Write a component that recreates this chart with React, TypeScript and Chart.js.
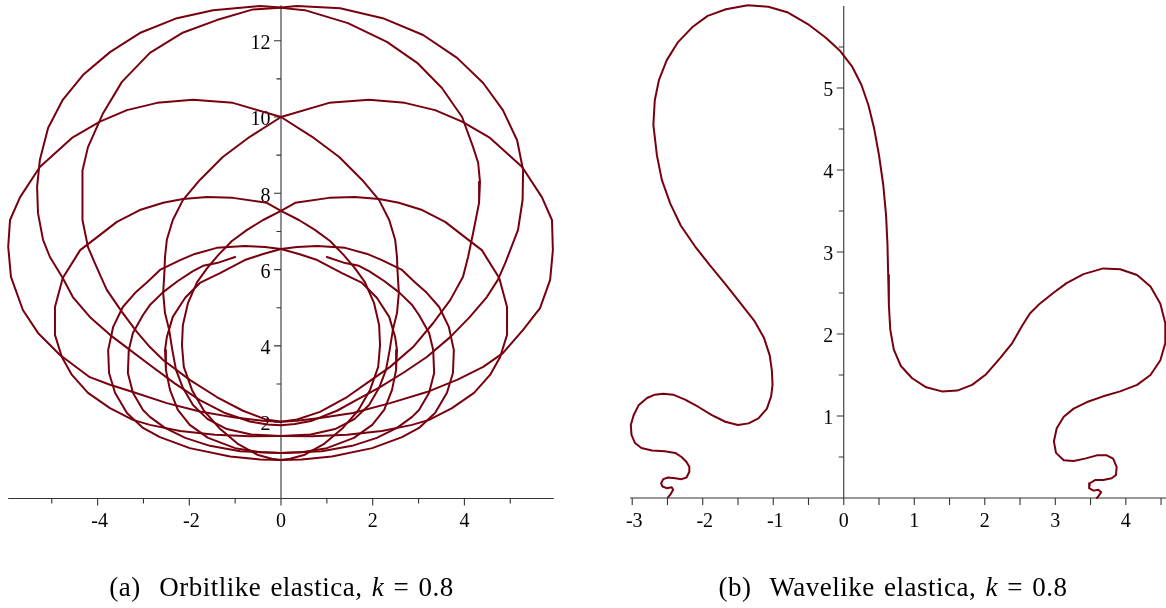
import React, { useEffect, useRef } from "react";
import { Chart, registerables } from "chart.js";

Chart.register(...registerables);

type Pt = [number, number];

const CURVE_COLOR = "#78000e";
const AXIS_COLOR = "#333333";

// ---------- (a) Orbitlike elastica: strands ----------
// left half strands (top crossing of the y-axis -> bottom crossing)
const orbitLA: Pt[] = [[0,12.87],[-0.46,12.91],[-1.48,12.8],[-2.27,12.59],[-3.08,12.2],[-3.73,11.7],[-4.32,11.1],[-4.76,10.45],[-5.08,9.71],[-5.26,8.87],[-5.32,8.17],[-5.3,7.48],[-5.19,6.78],[-5.04,6.33],[-4.76,5.78],[-4.54,5.28],[-4.17,4.76],[-3.73,4.29],[-3.29,3.89],[-2.86,3.5],[-2.31,3.01],[-1.77,2.58],[-1.22,2.24],[-0.68,2.02],[-0.3,1.94],[0,1.92]];
const orbitLA2: Pt[] = [[0,12.86],[-0.61,12.82],[-1.4,12.54],[-2.16,12.2],[-2.86,11.68],[-3.47,10.92],[-3.88,10.1],[-4.21,9.21],[-4.33,8.6],[-4.34,8.17],[-4.32,7.3],[-4.21,6.59],[-4.06,6.17],[-3.8,5.47],[-3.47,4.89],[-3.14,4.36],[-2.86,3.97],[-2.57,3.63],[-1.99,3.11],[-1.4,2.66],[-0.83,2.3],[-0.35,2.08],[0,2.01]];
const orbitLB: Pt[] = [[0,10],[-1.05,10.37],[-1.92,10.45],[-2.7,10.37],[-3.36,10.18],[-3.95,9.88],[-4.56,9.45],[-5.26,8.69],[-5.69,7.9],[-5.91,7.3],[-5.95,6.6],[-5.89,5.81],[-5.63,4.94],[-5.3,4.34],[-4.82,3.76],[-4.17,3.18],[-3.73,2.98],[-3.23,2.79],[-2.49,2.5],[-1.77,2.28],[-1.0,2.12],[-0.4,2.04],[0,2.01]];
const orbitLB2: Pt[] = [[0,10],[-0.68,9.48],[-1.27,8.95],[-1.77,8.35],[-2.14,7.82],[-2.36,7.3],[-2.49,6.78],[-2.53,6.33],[-2.54,5.99],[-2.57,5.39],[-2.53,4.86],[-2.44,4.42],[-2.37,3.89],[-2.29,3.37],[-2.14,2.9],[-1.92,2.45],[-1.6,2.08],[-1.18,1.82],[-0.65,1.68],[0,1.64]];
const orbitLC: Pt[] = [[0,7.54],[-0.31,7.75],[-1.05,7.88],[-1.61,7.9],[-2.14,7.85],[-2.57,7.75],[-3.08,7.56],[-3.58,7.25],[-4.01,6.85],[-4.38,6.51],[-4.76,5.78],[-4.93,5.02],[-4.93,4.29],[-4.78,3.71],[-4.56,3.24],[-4.21,2.77],[-3.73,2.37],[-3.23,2.06],[-2.86,1.93],[-2.2,1.77],[-1.44,1.67],[-0.68,1.63],[0,1.64]];
const orbitLC2: Pt[] = [[0,7.54],[-0.39,7.3],[-0.74,7.04],[-1.07,6.75],[-1.37,6.38],[-1.61,6.04],[-1.83,5.67],[-2.03,5.12],[-2.14,4.55],[-2.16,4.02],[-2.12,3.45],[-1.94,2.84],[-1.68,2.3],[-1.35,1.85],[-0.95,1.44],[-0.5,1.14],[-0.2,1.04],[0,1.01]];
const orbitLD: Pt[] = [[0,6.54],[-0.35,6.59],[-0.79,6.62],[-1.4,6.57],[-1.88,6.41],[-2.2,6.25],[-2.64,5.99],[-2.92,5.67],[-3.18,5.39],[-3.45,5.02],[-3.66,4.5],[-3.77,3.89],[-3.75,3.29],[-3.62,2.77],[-3.36,2.24],[-3.01,1.85],[-2.64,1.61],[-1.99,1.32],[-1.11,1.1],[-0.45,1.02],[0,1.01]];
const orbitLD2: Pt[] = [[0,6.54],[-0.39,6.41],[-0.79,6.25],[-1.33,5.91],[-1.77,5.65],[-2.09,5.26],[-2.36,4.76],[-2.49,4.23],[-2.53,3.89],[-2.51,3.37],[-2.42,2.84],[-2.25,2.32],[-1.99,1.93],[-1.59,1.59],[-1.0,1.32],[-0.45,1.21],[0,1.19]];
const orbitLS: Pt[] = [[-1.0,6.33],[-1.4,6.17],[-1.7,6.1],[-1.92,5.96],[-2.25,5.7],[-2.57,5.41],[-2.86,5.07],[-3.01,4.81],[-3.23,4.34],[-3.32,3.89],[-3.34,3.29],[-3.23,2.77],[-3.01,2.32],[-2.86,2.14],[-2.53,1.85],[-2.09,1.59],[-1.55,1.38],[-0.89,1.24],[0,1.19]];

// right half strands
const orbitRA: Pt[] = [[0,12.87],[0.35,12.91],[1.29,12.85],[2.22,12.59],[3.1,12.15],[3.84,11.55],[4.41,10.89],[4.84,10.18],[5.15,9.39],[5.28,8.61],[5.27,7.83],[5.17,7.04],[5.0,6.51],[4.89,6.17],[4.73,5.73],[4.49,5.28],[4.12,4.76],[3.69,4.23],[3.18,3.71],[2.66,3.29],[2.16,2.92],[1.72,2.63],[1.22,2.3],[0.68,2.04],[0.3,1.95],[0,1.92]];
const orbitRA2: Pt[] = [[0,12.86],[0.52,12.8],[1.46,12.46],[2.31,11.97],[2.97,11.42],[3.51,10.76],[3.95,10.0],[4.19,9.21],[4.3,8.8],[4.34,8.3],[4.32,7.75],[4.19,6.96],[4.08,6.33],[3.97,5.81],[3.69,5.2],[3.32,4.6],[2.88,3.97],[2.38,3.45],[1.88,3.03],[1.44,2.66],[0.85,2.27],[0.35,2.07],[0,2.01]];
const orbitRB: Pt[] = [[0,10],[1.05,10.37],[1.92,10.45],[2.7,10.37],[3.36,10.18],[3.95,9.88],[4.56,9.45],[5.26,8.69],[5.69,7.9],[5.91,7.3],[5.93,6.51],[5.87,5.73],[5.65,4.99],[5.28,4.42],[4.84,3.81],[4.41,3.45],[3.84,3.11],[3.18,2.79],[2.38,2.5],[1.57,2.24],[0.85,2.11],[0.35,2.04],[0,2.01]];
const orbitRB2: Pt[] = [[0,10],[0.68,9.48],[1.27,8.95],[1.77,8.35],[2.14,7.82],[2.36,7.3],[2.49,6.78],[2.53,6.33],[2.54,5.99],[2.57,5.39],[2.53,4.86],[2.44,4.42],[2.37,3.89],[2.29,3.37],[2.14,2.9],[1.92,2.45],[1.6,2.08],[1.18,1.82],[0.65,1.68],[0,1.64]];
const orbitRC: Pt[] = [[0,7.54],[0.31,7.75],[1.05,7.88],[1.61,7.9],[2.14,7.85],[2.57,7.75],[3.08,7.56],[3.58,7.25],[4.01,6.85],[4.38,6.51],[4.76,5.78],[4.93,5.02],[4.93,4.29],[4.78,3.71],[4.56,3.24],[4.21,2.77],[3.73,2.37],[3.23,2.06],[2.86,1.93],[2.2,1.77],[1.44,1.67],[0.68,1.63],[0,1.64]];
const orbitRC2: Pt[] = [[0,7.54],[0.39,7.3],[0.74,7.04],[1.07,6.75],[1.37,6.38],[1.61,6.04],[1.83,5.67],[2.03,5.12],[2.14,4.55],[2.16,4.02],[2.12,3.45],[1.94,2.84],[1.68,2.3],[1.35,1.85],[0.95,1.44],[0.5,1.14],[0.2,1.04],[0,1.01]];
const orbitRD: Pt[] = [[0,6.54],[0.35,6.59],[0.79,6.62],[1.4,6.57],[1.88,6.41],[2.2,6.25],[2.64,5.99],[2.92,5.67],[3.18,5.39],[3.45,5.02],[3.66,4.5],[3.77,3.89],[3.75,3.29],[3.62,2.77],[3.36,2.24],[3.01,1.85],[2.64,1.61],[1.99,1.32],[1.11,1.1],[0.45,1.02],[0,1.01]];
const orbitRD2: Pt[] = [[0,6.54],[0.39,6.41],[0.79,6.25],[1.33,5.91],[1.77,5.65],[2.09,5.26],[2.36,4.76],[2.49,4.23],[2.53,3.89],[2.51,3.37],[2.42,2.84],[2.25,2.32],[1.99,1.93],[1.59,1.59],[1.0,1.32],[0.45,1.21],[0,1.19]];
const orbitRS: Pt[] = [[1.0,6.33],[1.4,6.17],[1.7,6.1],[1.92,5.96],[2.25,5.7],[2.57,5.41],[2.86,5.07],[3.01,4.81],[3.23,4.34],[3.32,3.89],[3.34,3.29],[3.23,2.77],[3.01,2.32],[2.86,2.14],[2.53,1.85],[2.09,1.59],[1.55,1.38],[0.89,1.24],[0,1.19]];

const orbitStrands: Pt[][] = [
  orbitLA, orbitLA2, orbitLB, orbitLB2, orbitLC, orbitLC2, orbitLD, orbitLD2, orbitLS,
  orbitRA, orbitRA2, orbitRB, orbitRB2, orbitRC, orbitRC2, orbitRD, orbitRD2, orbitRS,
];

// ---------- (b) Wavelike elastica ----------
const waveCurve: Pt[] = [[-2.49,0.01],[-2.46,0.04],[-2.44,0.07],[-2.42,0.1],[-2.44,0.13],[-2.51,0.12],[-2.57,0.14],[-2.59,0.18],[-2.56,0.23],[-2.49,0.25],[-2.39,0.24],[-2.3,0.23],[-2.23,0.25],[-2.19,0.32],[-2.19,0.38],[-2.23,0.44],[-2.3,0.5],[-2.39,0.55],[-2.54,0.57],[-2.72,0.58],[-2.87,0.61],[-2.96,0.67],[-3.01,0.77],[-3.02,0.89],[-2.98,1.01],[-2.91,1.13],[-2.79,1.22],[-2.68,1.26],[-2.56,1.27],[-2.42,1.26],[-2.25,1.2],[-2.06,1.11],[-1.87,1.01],[-1.68,0.93],[-1.5,0.89],[-1.35,0.91],[-1.21,0.97],[-1.09,1.09],[-1.03,1.24],[-1.01,1.38],[-1.02,1.56],[-1.05,1.74],[-1.13,1.95],[-1.26,2.15],[-1.44,2.35],[-1.67,2.6],[-1.9,2.84],[-2.11,3.07],[-2.31,3.32],[-2.46,3.59],[-2.58,3.88],[-2.65,4.18],[-2.7,4.55],[-2.68,4.85],[-2.62,5.1],[-2.51,5.34],[-2.35,5.56],[-2.15,5.74],[-1.93,5.88],[-1.67,5.96],[-1.36,6.01],[-1.07,5.99],[-0.79,5.92],[-0.51,5.78],[-0.25,5.61],[-0.05,5.45],[0.12,5.26],[0.25,5.04],[0.35,4.79],[0.43,4.51],[0.5,4.18],[0.56,3.82],[0.6,3.45],[0.62,3.09],[0.63,2.72],[0.64,2.35],[0.66,2.05],[0.71,1.81],[0.81,1.61],[0.97,1.46],[1.17,1.35],[1.39,1.3],[1.61,1.31],[1.82,1.38],[2.02,1.51],[2.22,1.71],[2.39,1.89],[2.53,2.1],[2.64,2.25],[2.78,2.37],[2.97,2.5],[3.16,2.62],[3.4,2.73],[3.68,2.8],[3.92,2.79],[4.16,2.72],[4.35,2.58],[4.49,2.37],[4.56,2.13],[4.56,1.89],[4.49,1.68],[4.35,1.5],[4.16,1.38],[3.92,1.3],[3.68,1.24],[3.45,1.17],[3.26,1.09],[3.12,0.99],[3.02,0.85],[2.98,0.69],[3.01,0.55],[3.12,0.46],[3.26,0.45],[3.42,0.48],[3.59,0.52],[3.73,0.52],[3.82,0.48],[3.87,0.38],[3.86,0.28],[3.8,0.24],[3.68,0.22],[3.57,0.22],[3.49,0.18],[3.48,0.12],[3.54,0.09],[3.61,0.1],[3.65,0.07],[3.61,0.02],[3.59,0.0]];

// ---------- axes ----------
const orbitXLabels = [-4, -2, 0, 2, 4];
const orbitXMinor = [-5, -3, -1, 1, 3, 5];
const orbitYLabels = [2, 4, 6, 8, 10, 12];
const orbitYMinor = [1, 3, 5, 7, 9, 11];

const waveXLabels = [-3, -2, -1, 0, 1, 2, 3, 4];
const waveXMinor = [-2.5, -1.5, -0.5, 0.5, 1.5, 2.5, 3.5, 4.5];
const waveYLabels = [1, 2, 3, 4, 5];
const waveYMinor = [0.5, 1.5, 2.5, 3.5, 4.5, 5.5];

const captionA = { tag: "(a)", text: "Orbitlike elastica,", k: "k", value: "= 0.8" };
const captionB = { tag: "(b)", text: "Wavelike elastica,", k: "k", value: "= 0.8" };

interface AxisSpec {
  xLabels: number[];
  xMinor: number[];
  yLabels: number[];
  yMinor: number[];
  xMajorLen: number;
  xMinorLen: number;
  yMajorLen: number;
  yMinorLen: number;
}

function axesPlugin(spec: AxisSpec) {
  return {
    id: "mapleAxes",
    beforeDatasetsDraw(chart: any) {
      const ctx: CanvasRenderingContext2D = chart.ctx;
      const xs = chart.scales.x;
      const ys = chart.scales.y;
      const px = (v: number) => xs.getPixelForValue(v);
      const py = (v: number) => ys.getPixelForValue(v);
      const x0 = px(0);
      const y0 = py(0);
      ctx.save();
      ctx.strokeStyle = AXIS_COLOR;
      ctx.lineWidth = 1.1;
      ctx.beginPath();
      ctx.moveTo(px(xs.min), y0);
      ctx.lineTo(px(xs.max), y0);
      ctx.moveTo(x0, y0);
      ctx.lineTo(x0, py(ys.max));
      for (const v of spec.xLabels) {
        ctx.moveTo(px(v), y0);
        ctx.lineTo(px(v), y0 + spec.xMajorLen);
      }
      for (const v of spec.xMinor) {
        ctx.moveTo(px(v), y0);
        ctx.lineTo(px(v), y0 + spec.xMinorLen);
      }
      for (const v of spec.yLabels) {
        ctx.moveTo(x0, py(v));
        ctx.lineTo(x0 - spec.yMajorLen, py(v));
      }
      for (const v of spec.yMinor) {
        ctx.moveTo(x0, py(v));
        ctx.lineTo(x0 - spec.yMinorLen, py(v));
      }
      ctx.stroke();

      ctx.fillStyle = "#000";
      ctx.font = '20px "Liberation Serif", "Times New Roman", serif';
      ctx.textBaseline = "alphabetic";
      ctx.textAlign = "center";
      for (const v of spec.xLabels) {
        ctx.fillText(String(v), px(v) + (v < 0 ? 2 : 0), y0 + 28.5);
      }
      ctx.textAlign = "right";
      for (const v of spec.yLabels) {
        ctx.fillText(String(v), x0 - 10.5, py(v) + 8.3);
      }
      ctx.restore();
    },
  };
}

function makeConfig(
  strands: Pt[][],
  xMin: number,
  xMax: number,
  yMin: number,
  yMax: number,
  padding: { left: number; right: number; top: number; bottom: number },
  spec: AxisSpec
): any {
  return {
    type: "scatter",
    data: {
      datasets: strands.map((s) => ({
        data: s.map(([x, y]) => ({ x, y })),
        showLine: true,
        borderColor: CURVE_COLOR,
        borderWidth: 2,
        pointRadius: 0,
        pointHoverRadius: 0,
        fill: false,
        tension: 0,
        clip: false,
        borderJoinStyle: "round",
        borderCapStyle: "round",
      })),
    },
    options: {
      animation: false,
      responsive: false,
      devicePixelRatio: 1,
      events: [],
      layout: { padding },
      plugins: {
        legend: { display: false },
        tooltip: { enabled: false },
        title: { display: false },
      },
      scales: {
        x: { type: "linear", min: xMin, max: xMax, display: false },
        y: { type: "linear", min: yMin, max: yMax, display: false },
      },
    },
    plugins: [axesPlugin(spec)],
  };
}

const captionStyle: React.CSSProperties = {
  position: "absolute",
  top: 574,
  width: 520,
  textAlign: "center",
  fontFamily: '"Liberation Serif", "Times New Roman", serif',
  fontSize: 27,
  lineHeight: "27px",
  letterSpacing: "0.5px",
  wordSpacing: "2px",
  color: "#000",
  whiteSpace: "pre",
};

function Caption({ c, center }: { c: typeof captionA; center: number }) {
  return (
    <div style={{ ...captionStyle, left: center - 260 }}>
      {c.tag}
      {"  "}
      {c.text}{" "}
      <span style={{ fontStyle: "italic" }}>{c.k}</span>
      {" "}
      {c.value}
    </div>
  );
}

export default function App() {
  const leftRef = useRef<HTMLCanvasElement>(null);
  const rightRef = useRef<HTMLCanvasElement>(null);

  useEffect(() => {
    const left = new Chart(
      leftRef.current as HTMLCanvasElement,
      makeConfig(
        orbitStrands,
        -5.95,
        5.95,
        0,
        12.93,
        { left: 8.2, right: 29.2, top: 5.2, bottom: 109.5 },
        {
          xLabels: orbitXLabels,
          xMinor: orbitXMinor,
          yLabels: orbitYLabels,
          yMinor: orbitYMinor,
          xMajorLen: 7,
          xMinorLen: 5,
          yMajorLen: 7,
          yMinorLen: 4.5,
        }
      )
    );
    const right = new Chart(
      rightRef.current as HTMLCanvasElement,
      makeConfig(
        [waveCurve],
        -3.03,
        4.57,
        0,
        6.0,
        { left: 47.1, right: 0, top: 6, bottom: 110 },
        {
          xLabels: waveXLabels,
          xMinor: waveXMinor,
          yLabels: waveYLabels,
          yMinor: waveYMinor,
          xMajorLen: 7,
          xMinorLen: 7,
          yMajorLen: 7,
          yMinorLen: 5,
        }
      )
    );
    return () => {
      left.destroy();
      right.destroy();
    };
  }, []);

  return (
    <div
      style={{
        position: "absolute",
        left: 0,
        top: 0,
        width: 1166,
        height: 608,
        background: "#fff",
        overflow: "hidden",
      }}
    >
      <canvas
        ref={leftRef}
        width={583}
        height={608}
        style={{ position: "absolute", left: 0, top: 0, width: 583, height: 608 }}
      />
      <canvas
        ref={rightRef}
        width={583}
        height={608}
        style={{ position: "absolute", left: 583, top: 0, width: 583, height: 608 }}
      />
      <Caption c={captionA} center={281.5} />
      <Caption c={captionB} center={893} />
    </div>
  );
}
